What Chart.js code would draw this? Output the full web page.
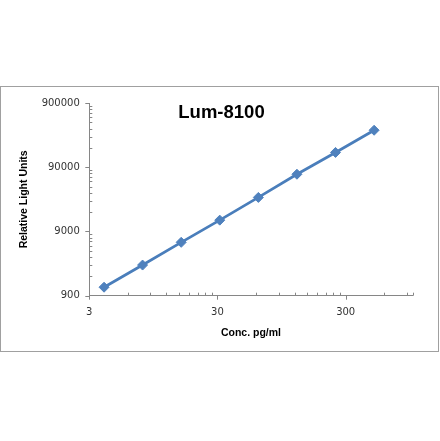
<!DOCTYPE html>
<html>
<head>
<meta charset="utf-8">
<script src="https://cdn.jsdelivr.net/npm/chart.js@4/dist/chart.umd.min.js"></script>
<style>
  html, body { margin: 0; padding: 0; background: #fff; }
  #box {
    position: absolute; left: 0; top: 86px;
    width: 439px; height: 266px;
    border: 1px solid #a0a0a0; box-sizing: border-box;
  }
  #box canvas { display: block; }
</style>
</head>
<body>
<div id="box"><canvas id="chart" width="437" height="264"></canvas></div>
<script>
// data
const concentrations = [3.91, 7.81, 15.63, 31.25, 62.5, 125, 250, 500];
const rlu = [1220, 2700, 6100, 13500, 30500, 70000, 153000, 339000];

// axis ticks (major ones get a label)
const xMajorTicks = [3, 30, 300];
const xMinorTicks = [6, 9, 12, 15, 18, 21, 24, 27, 60, 90, 120, 150, 180, 210, 240, 270, 600, 900, 1000];
const yMajorTicks = [900, 9000, 90000, 900000];
const yMinorTicks = [1800, 2700, 3600, 4500, 5400, 6300, 7200, 8100,
  18000, 27000, 36000, 45000, 54000, 63000, 72000, 81000,
  180000, 270000, 360000, 450000, 540000, 630000, 720000, 810000];

const chartTitle = "Lum-8100";
const xTitle = "Conc. pg/ml";
const yTitle = "Relative Light Units";

const axisColor = "#868686";
const blue = "#4a7ebb";

const points = concentrations.map((c, i) => ({ x: c, y: rlu[i] }));

function tickList(major, minor) {
  return major.concat(minor).sort((a, b) => a - b).map(v => ({ value: v }));
}

// excel-like tick marks: major outside, minor inside
const tickMarks = {
  id: "tickMarks",
  afterDraw(chart) {
    const { ctx, chartArea, scales } = chart;
    ctx.save();
    ctx.strokeStyle = axisColor;
    ctx.lineWidth = 1;
    ctx.beginPath();
    scales.x.ticks.forEach(t => {
      const px = Math.round(scales.x.getPixelForValue(t.value)) + 0.5;
      const b = chartArea.bottom;
      if (xMajorTicks.includes(t.value)) { ctx.moveTo(px, b); ctx.lineTo(px, b + 4); }
      else { ctx.moveTo(px, b); ctx.lineTo(px, b - 3); }
    });
    scales.y.ticks.forEach(t => {
      const py = Math.round(scales.y.getPixelForValue(t.value)) + 0.5;
      const l = chartArea.left;
      if (yMajorTicks.includes(t.value)) { ctx.moveTo(l - 4, py); ctx.lineTo(l, py); }
      else { ctx.moveTo(l, py); ctx.lineTo(l + 3, py); }
    });
    ctx.stroke();

    // chart title sits inside the plot like in the original
    ctx.fillStyle = "#000";
    ctx.font = "bold 18.5px 'Liberation Sans', Arial, sans-serif";
    ctx.textAlign = "center";
    ctx.textBaseline = "alphabetic";
    ctx.fillText(chartTitle, 220.5, 30.5);
    ctx.restore();
  }
};

new Chart(document.getElementById("chart").getContext("2d"), {
  type: "scatter",
  data: {
    datasets: [{
      data: points,
      showLine: true,
      borderColor: blue,
      backgroundColor: "#4f81bd",
      borderWidth: 2.75,
      pointStyle: "rectRot",
      pointRadius: 5,
      pointBorderWidth: 1,
      pointBorderColor: "#4f81bd",
      tension: 0
    }]
  },
  options: {
    responsive: false,
    animation: false,
    layout: { padding: { left: 0, right: 25.3, top: 16, bottom: 0 } },
    plugins: {
      legend: { display: false },
      tooltip: { enabled: false }
    },
    scales: {
      x: {
        type: "logarithmic",
        min: 3,
        max: 1000,
        afterBuildTicks: s => { s.ticks = tickList(xMajorTicks, xMinorTicks); },
        afterFit: s => { s.height = 55.3; },
        grid: { display: false, drawTicks: false },
        border: { display: true, color: axisColor, width: 1 },
        ticks: {
          autoSkip: false,
          maxRotation: 0,
          padding: 10.3,
          color: "#333",
          font: { family: "'DejaVu Sans', sans-serif", size: 10 },
          callback: v => xMajorTicks.includes(v) ? String(v) : ""
        },
        title: {
          display: true,
          text: xTitle,
          color: "#000",
          font: { family: "'Liberation Sans', Arial, sans-serif", size: 10.5, weight: "bold" },
          padding: { top: 0, bottom: 11.7 }
        }
      },
      y: {
        type: "logarithmic",
        min: 900,
        max: 900000,
        afterBuildTicks: s => { s.ticks = tickList(yMajorTicks, yMinorTicks); },
        afterFit: s => { s.width = 88.3; },
        grid: { display: false, drawTicks: false },
        border: { display: true, color: axisColor, width: 1 },
        ticks: {
          autoSkip: false,
          padding: 9.5,
          color: "#333",
          font: { family: "'DejaVu Sans', sans-serif", size: 10 },
          callback: v => yMajorTicks.includes(v) ? String(v) : ""
        },
        title: {
          display: true,
          text: yTitle,
          color: "#000",
          font: { family: "'Liberation Sans', Arial, sans-serif", size: 10.5, weight: "bold" },
          padding: { top: 17, bottom: 0 }
        }
      }
    }
  },
  plugins: [tickMarks]
});
</script>
</body>
</html>
